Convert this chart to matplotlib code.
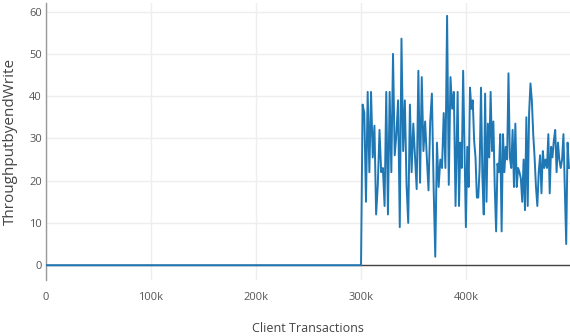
import numpy as np
import matplotlib
matplotlib.use("Agg")
from matplotlib import pyplot as plt

# flat part before the writes start
idle_x = [0, 300000]
idle_y = [0, 0]

busy1_y = [38, 36, 15, 41, 22, 41, 25.5, 33, 12, 19, 32, 22, 23, 14, 41, 12, 41, 22,
           50, 26, 31, 39, 9, 53.6, 27, 39, 19, 10, 38, 22, 33.5, 25.5, 18, 46, 19.5,
           44.5, 27, 34, 25.5, 17.7, 34, 40.6, 19, 2, 29, 18.5, 25, 23, 36, 23, 59,
           19, 44.5, 37, 41, 14]
# second stretch (about 391k -> 498k)
busy2_y = [41, 14, 29, 23, 46, 28, 9, 28, 18.5, 42, 37, 39, 29.5, 25.5, 16, 16, 23,
           42, 21, 12, 40.6, 15, 33.5, 25.5, 41, 27, 34, 18.5, 8, 24, 22, 31, 8, 31,
           22, 28, 25, 45.4, 25.5, 23, 32, 18.5, 33.5, 18.5, 23, 22, 20.5, 15, 25,
           13, 35, 14, 36, 43, 39, 31, 25.5, 18.5, 14, 22, 26, 17, 27, 23, 25, 23,
           31, 17, 28, 25.5, 29.5, 32, 22, 29, 25, 23, 25, 31, 18.5, 5, 29, 23]
busy1_x = np.linspace(301500, 390000, len(busy1_y))
busy2_x = np.linspace(392000, 498000, len(busy2_y))

x = list(idle_x) + list(busy1_x) + list(busy2_x)
y = list(idle_y) + list(busy1_y) + list(busy2_y)

plt.rcParams['font.family'] = ['Open Sans', 'DejaVu Sans']

fig = plt.figure(figsize=(5.7, 3.36), dpi=100)
ax = fig.add_axes([0.0807, 0.1667, 0.9193, 0.824])

ax.plot(x, y, color='#1f77b4', linewidth=1.4, zorder=3)
ax.axhline(0, color='#444444', linewidth=1.0, zorder=2)

ax.set_xlim(0, 499000)
ax.set_ylim(-3.5, 62)
ax.set_xticks([0, 100000, 200000, 300000, 400000])
ax.set_xticklabels(['0', '100k', '200k', '300k', '400k'])
ax.set_yticks([0, 10, 20, 30, 40, 50, 60])

ax.grid(True, color='#eeeeee', linewidth=1.0, zorder=0)
for s in ['top', 'right', 'bottom']:
    ax.spines[s].set_visible(False)
ax.spines['left'].set_color('#999999')
ax.spines['left'].set_linewidth(1.0)

ax.tick_params(axis='both', length=0, labelsize=8, labelcolor='#555555')
ax.tick_params(axis='x', pad=9)
ax.tick_params(axis='y', pad=3)

ax.set_xlabel('Client Transactions', fontsize=9, color='#444444', labelpad=13)
ax.set_ylabel('ThroughputbyendWrite', fontsize=11, color='#444444', labelpad=8)

fig.savefig('out.png', dpi=100)
